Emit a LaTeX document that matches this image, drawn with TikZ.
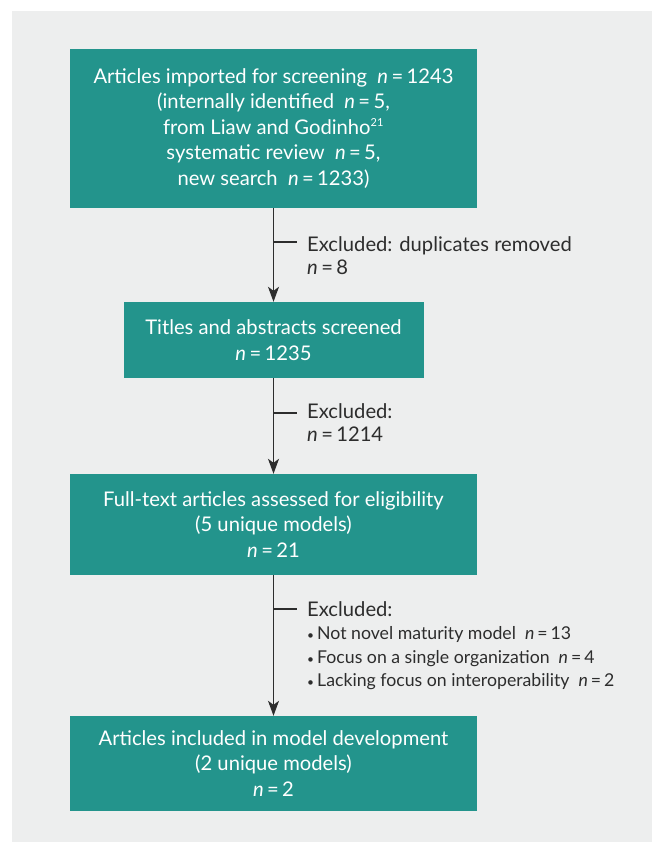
\documentclass[tikz,border=0pt]{standalone}
\usepackage{fontspec}
\setmainfont{Lato}
\usetikzlibrary{arrows.meta,positioning}

\definecolor{boxteal}{RGB}{35,148,140}
\definecolor{panelgray}{RGB}{237,238,238}
\definecolor{inkgray}{RGB}{45,45,45}
\newcommand{\nis}{{\itshape n}\,=\,}
\newcommand{\dotitem}{\fontsize{17.7}{22.7}\selectfont
  {\fontsize{12}{12}\selectfont\textbullet}\hspace{3pt}}

\begin{document}
\begin{tikzpicture}[x=1pt, y=-1pt,
  box/.style={fill=boxteal, text=white, align=center, inner sep=0pt,
    minimum width=407pt, font=\fontsize{20.2}{25.5}\selectfont},
  flow/.style={draw=inkgray, line width=1.2pt,
    -{Stealth[length=15pt, width=11pt, inset=4pt]}},
  note/.style={text=inkgray, align=left, anchor=north west, inner sep=0pt,
    font=\fontsize{20.2}{23.5}\selectfont}]
  % Panel
  \useasboundingbox (0,0) rectangle (652,842);
  \fill[panelgray] (12,11) rectangle (652,842);
  % Boxes
  \node[box, minimum height=159pt] (import) at (273.5,128.5)
    {Articles imported for screening\ \ \nis 1243\\
     (internally identified\ \ \nis 5,\\
     from Liaw and Godinho\textsuperscript{\fontsize{11}{11}\selectfont 21}\\
     systematic review\ \ \nis 5,\\
     new search\ \ \nis 1233)};
  \node[box, minimum width=300pt, minimum height=76pt] (screen) at (273.5,340)
    {Titles and abstracts screened\\ \nis 1235};
  \node[box, minimum height=101pt] (full) at (273.5,524.5)
    {Full-text articles assessed for eligibility\\ (5 unique models)\\ \nis 21};
  \node[box, minimum height=95pt] (incl) at (273.5,763.5)
    {Articles included in model development\\ (2 unique models)\\ \nis 2};
  % Arrows
  \draw[flow] (import.south) -- (screen.north);
  \draw[flow] (screen.south) -- (full.north);
  \draw[flow] (full.south) -- (incl.north);
  % Exclusions
  \coordinate (cut1) at (273.5,242);
  \coordinate (cut2) at (273.5,413);
  \coordinate (cut3) at (273.5,609);
  \draw[inkgray, line width=1.2pt] (cut1) -- ++(23,0);
  \draw[inkgray, line width=1.2pt] (cut2) -- ++(23,0);
  \draw[inkgray, line width=1.2pt] (cut3) -- ++(23,0);
  \node[note] (ex1) at (307,236) {Excluded: duplicates removed\\ \nis 8};
  \node[note] (ex2) at (307,403) {Excluded:\\ \nis 1214};
  \node[note] (ex3) at (307,601)
    {Excluded:\\
     \dotitem Not novel maturity model\ \ \nis 13\\
     \dotitem Focus on a single organization\ \ \nis 4\\
     \dotitem Lacking focus on interoperability\ \ \nis 2};
\end{tikzpicture}
\end{document}
